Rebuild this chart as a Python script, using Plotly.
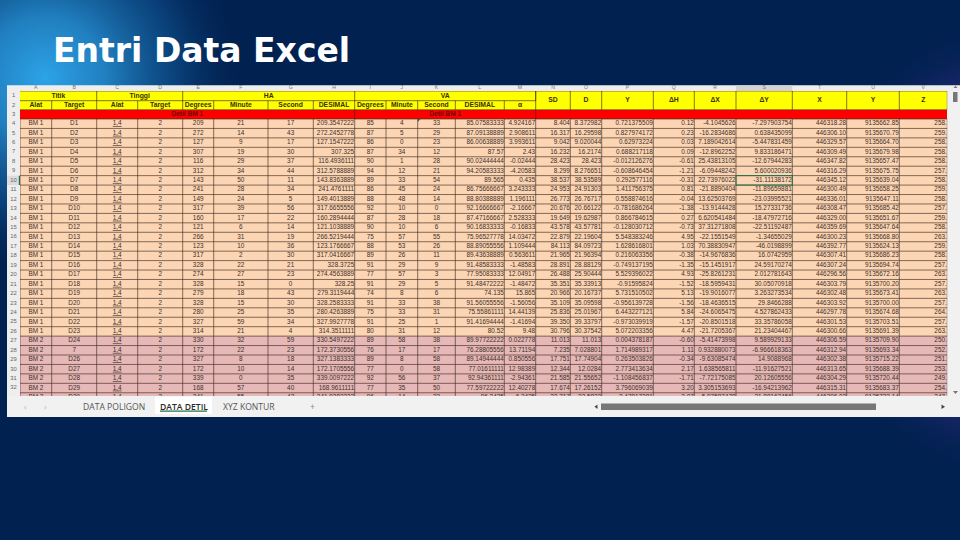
import base64
import plotly.graph_objects as go

# ---------- sheet content ----------
TITLE = "Entri Data Excel"
COL_LETTERS = list("ABCDEFGHIJKLMNOPQRSTUV")
ROW_FIRST = 1
ROW_LAST = 33
GROUP_LABELS = ["Titik", "Tinggi", "HA", "VA"]
SUB_LABELS = ["Alat", "Target", "Alat", "Target", "Degrees", "Minute", "Second", "DESIMAL",
              "Degrees", "Minute", "Second", "DESIMAL", "α"]
TALL_LABELS = ["SD", "D", "Y", "ΔH", "ΔX", "ΔY", "X", "Y", "Z"]
SECTION_LABEL = "Detil BM 1"
SHEET_TABS = ["DATA POLIGON", "DATA DETIL", "XYZ KONTUR"]

col_a = ["BM 1"] * 23 + ["BM 2"] * 7
col_b = ["D1","D2","D3","D4","D5","D6","D7","D8","D9","D10","D11","D12","D13","D14","D15","D16","D17",
         "D18","D19","D20","D21","D22","D23","D24","7","D26","D27","D28","D29","D30"]
col_c = ["1,4"] * 30
col_d = ["2"] * 30
col_e = ["209","272","127","307","116","312","143","241","149","317","160","121","266","123","317","328",
         "274","328","279","328","280","327","314","330","172","327","172","339","168","341"]
col_f = ["21","14","9","19","29","34","50","28","24","39","17","6","31","10","2","22","27","15","18","15",
         "25","59","21","32","22","8","10","0","57","55"]
col_g = ["17","43","17","30","37","44","11","34","5","56","22","14","19","36","30","21","23","0","43","30",
         "35","34","4","59","23","18","14","35","40","42"]
col_h = ["209.3547222","272.2452778","127.1547222","307.325","116.4936111","312.5788889","143.8363889",
         "241.4761111","149.4013889","317.6655556","160.2894444","121.1038889","266.5219444","123.1766667",
         "317.0416667","328.3725","274.4563889","328.25","279.3119444","328.2583333","280.4263889",
         "327.9927778","314.3511111","330.5497222","172.3730556","327.1383333","172.1705556","339.0097222",
         "168.9611111","341.9283333"]
col_i = ["85","87","86","87","90","94","89","86","88","92","87","90","75","88","89","91","77","91","74","91",
         "75","91","80","89","76","89","77","92","77","96"]
col_j = ["4","5","0","34","1","12","33","45","48","10","28","10","57","53","26","29","57","29","8","33","33",
         "25","31","58","17","8","0","56","35","14"]
col_k = ["33","29","23","12","28","21","54","24","14","0","18","6","55","26","11","9","3","5","6","38","31",
         "1","12","38","17","58","58","37","50","33"]
col_l = ["85.07583333","87.09138889","86.00638889","87.57","90.02444444","94.20583333","89.565","86.75666667",
         "88.80388889","92.16666667","87.47166667","90.16833333","75.96527778","88.89055556","89.43638889",
         "91.48583333","77.95083333","91.48472222","74.135","91.56055556","75.55861111","91.41694444","80.52",
         "89.97722222","76.28805556","89.14944444","77.01611111","92.94361111","77.59722222","96.2425"]
col_m = ["4.924167","2.908611","3.993611","2.43","-0.02444","-4.20583","0.435","3.243333","1.196111","-2.16667",
         "2.528333","-0.16833","14.03472","1.109444","0.563611","-1.48583","12.04917","-1.48472","15.865",
         "-1.56056","14.44139","-1.41694","9.48","0.022778","13.71194","0.850556","12.98389","-2.94361",
         "12.40278","-6.2425"]
col_n = ["8.404","16.317","9.042","16.232","28.423","8.299","38.537","24.953","26.773","20.676","19.649","43.578",
         "22.879","84.113","21.965","28.891","26.488","35.351","20.966","35.109","25.836","39.350","30.796",
         "11.013","7.235","17.751","12.344","21.585","17.674","22.717"]
col_o = ["8.372982","16.29598","9.020044","16.2174","28.423","8.276651","38.53589","24.91303","26.76717","20.66122",
         "19.62987","43.57781","22.19604","84.09723","21.96394","28.88129","25.90444","35.33913","20.16737",
         "35.09598","25.01967","39.33797","30.37542","11.013","7.028801","17.74904","12.0284","21.55652",
         "17.26152","22.5833"]
col_p = ["0.721375509","0.827974172","0.62973224","0.688217118","-0.012126276","-0.608646454","0.292577116",
         "1.411756375","0.558874616","-0.781686264","0.866784615","-0.128030712","5.548383246","1.628616801",
         "0.216063356","-0.749137195","5.529396022","-0.91595824","5.731510502","-0.956139728","6.443227121",
         "-0.973039919","5.072203356","0.004378187","1.714989317","0.263503826","2.773413634","-1.108456837",
         "3.796069039","-2.47917381"]
col_q = ["0.12","0.23","0.03","0.09","-0.61","-1.21","-0.31","0.81","-0.04","-1.38","0.27","-0.73","4.95","1.03",
         "-0.38","-1.35","4.93","-1.52","5.13","-1.56","5.84","-1.57","4.47","-0.60","1.11","-0.34","2.17","-1.71",
         "3.20","-3.07"]
col_r = ["-4.1045626","-16.2834686","7.189042614","-12.8962252","25.43813105","-6.09448242","22.73976022",
         "-21.8890404","13.62503769","-13.9144428","6.620541484","37.31271808","-22.1551549","70.38830947",
         "-14.9676836","-15.1451917","-25.8261231","-18.5959431","-19.9016077","-18.4636515","-24.6065475",
         "-20.8501518","-21.7205367","-5.41473998","0.932880073","-9.63085474","1.638565811","-7.72175085",
         "3.305153693","-5.97587478"]
col_s = ["-7.297903754","0.638435099","-5.447831459","9.833186471","-12.67944283","5.600020936","-31.11138172",
         "-11.89659881","-23.03995521","15.27331736","-18.47972716","-22.51192487","-1.34655029","-46.0198899",
         "16.0742959","24.59170274","2.012781643","30.05070918","3.263273534","29.8466288","4.527862433",
         "33.35786058","21.23404467","9.589929133","-6.966618363","14.9088968","-11.91627521","20.12605556",
         "-16.94213962","21.88167456"]
col_t = ["446318.28","446306.10","446329.57","446309.49","446347.82","446316.29","446345.12","446300.49","446336.01",
         "446308.47","446329.00","446359.69","446300.23","446392.77","446307.41","446307.24","446296.56","446303.79",
         "446302.48","446303.92","446297.78","446301.53","446300.66","446306.59","446312.94","446302.38","446313.65",
         "446304.29","446315.31","446306.03"]
col_u = ["9135662.85","9135670.79","9135664.70","9135679.98","9135657.47","9135675.75","9135639.04","9135658.25",
         "9135647.11","9135685.42","9135651.67","9135647.64","9135668.80","9135624.13","9135686.23","9135694.74",
         "9135672.16","9135700.20","9135673.41","9135700.00","9135674.68","9135703.51","9135691.39","9135709.90",
         "9135693.34","9135715.22","9135688.39","9135720.44","9135683.37","9135722.14"]
col_v = ["258.","259.","258.","258.","258.","257.","258.","259.","258.","257.","259.","258.","263.","259.","258.",
         "257.","263.","257.","263.","257.","264.","257.","263.","250.","252.","251.","253.","249.","254.","247."]

columns = [col_a, col_b, col_c, col_d, col_e, col_f, col_g, col_h, col_i, col_j, col_k,
           col_l, col_m, col_n, col_o, col_p, col_q, col_r, col_s, col_t, col_u, col_v]

# ---------- layout geometry (pixels of the slide) ----------
W, H = 960, 540
X_EDGES = [20, 51.7, 96.7, 137.7, 182.7, 213.7, 268, 313.3, 354.7, 386, 417.7, 455.3, 504.3, 535.7,
           570.3, 601.7, 653.3, 694.3, 736, 792.3, 846.7, 899.3, 947.3]
Y_HEAD = [91, 100.7, 109.7, 119]
ROW_H = 9.44
N_DATA = len(col_a)
Y_EDGES = Y_HEAD + [119 + ROW_H * (i + 1) for i in range(N_DATA)]
GRID_BOTTOM = 396
BM1_ROWS = col_a.count("BM 1")
RIGHT_ALIGNED = set("HLMNOPQRSTUV")
GRID_COLOR = "rgba(62,42,30,0.80)"
TEXT_COLOR = "#40302a"
FONT = "Liberation Sans"
SIZE = 6.4

xc = [(a + b) / 2 for a, b in zip(X_EDGES, X_EDGES[1:])]
yc = [(a + b) / 2 for a, b in zip(Y_EDGES, Y_EDGES[1:])]

# ---------- slide background ----------
svg = f'''<svg xmlns="http://www.w3.org/2000/svg" width="{W}" height="{H}" viewBox="0 0 {W} {H}">
<defs>
<radialGradient id="a" gradientUnits="userSpaceOnUse" cx="45" cy="78" r="205">
<stop offset="0" stop-color="#2da3e8"/><stop offset="0.3" stop-color="#2387c8" stop-opacity="0.92"/>
<stop offset="0.65" stop-color="#0f5594" stop-opacity="0.6"/><stop offset="1" stop-color="#012150" stop-opacity="0"/>
</radialGradient>
<radialGradient id="b" gradientUnits="userSpaceOnUse" cx="1035" cy="250" r="240">
<stop offset="0" stop-color="#3a3196"/><stop offset="0.7" stop-color="#2a2a7c" stop-opacity="0.8"/>
<stop offset="1" stop-color="#012150" stop-opacity="0"/>
</radialGradient>
</defs>
<rect width="{W}" height="{H}" fill="#012150"/>
<rect width="{W}" height="{H}" fill="url(#a)"/>
<rect width="{W}" height="{H}" fill="url(#b)"/>
</svg>'''
bg_uri = "data:image/svg+xml;base64," + base64.b64encode(svg.encode()).decode()

# ---------- cell colours ----------
z = []
z.append([0] * 22)
z.append([0] * 22)
z.append([1] * 22)
for i in range(N_DATA):
    z.append([2 if i < BM1_ROWS else 3] * 22)
colorscale = [[0, "#ffff00"], [0.25, "#ffff00"], [0.25, "#ff0000"], [0.5, "#ff0000"],
              [0.5, "#fcd5b4"], [0.75, "#fcd5b4"], [0.75, "#e6b8b7"], [1, "#e6b8b7"]]

fig = go.Figure()
fig.add_trace(go.Heatmap(x=X_EDGES, y=Y_EDGES, z=z, zmin=0, zmax=3, colorscale=colorscale, showscale=False,
                         hoverinfo="skip", xaxis="x2", yaxis="y2"))

# ---------- grid lines ----------
gx, gy = [], []
def seg(x0, y0, x1, y1):
    gx.extend([x0, x1, None]); gy.extend([y0, y1, None])

# horizontals
seg(X_EDGES[0], Y_HEAD[0], X_EDGES[-1], Y_HEAD[0])
seg(X_EDGES[0], Y_HEAD[1], X_EDGES[13], Y_HEAD[1])
seg(X_EDGES[0], Y_HEAD[2], X_EDGES[-1], Y_HEAD[2])
for yy in Y_EDGES[3:]:
    seg(X_EDGES[0], yy, X_EDGES[-1], yy)
# verticals: merged group row, sub-header row, tall headers, data rows
for k in [2, 4, 8, 13]:
    seg(X_EDGES[k], Y_HEAD[0], X_EDGES[k], Y_HEAD[1])
for k in range(1, 13):
    seg(X_EDGES[k], Y_HEAD[1], X_EDGES[k], Y_HEAD[2])
for k in range(13, 23):
    seg(X_EDGES[k], Y_HEAD[0], X_EDGES[k], Y_HEAD[2])
for k in [8, 13]:
    seg(X_EDGES[k], Y_HEAD[2], X_EDGES[k], Y_HEAD[3])
for k in range(0, 23):
    seg(X_EDGES[k], Y_HEAD[3], X_EDGES[k], Y_EDGES[-1])
fig.add_trace(go.Scatter(x=gx, y=gy, mode="lines", line=dict(color=GRID_COLOR, width=0.8),
                         hoverinfo="skip", xaxis="x2", yaxis="y2"))

# ---------- data text ----------
cx, rx, cy, ry, ct, rt = [], [], [], [], [], []
for c, col in enumerate(columns):
    letter = COL_LETTERS[c]
    for r, val in enumerate(col):
        yy = yc[3 + r]
        label = f"<u>{val}</u>" if letter == "C" else val
        if letter in RIGHT_ALIGNED:
            rx.append(X_EDGES[c + 1] - 0.5); ry.append(yy); rt.append(label)
        else:
            cx.append(xc[c]); cy.append(yy); ct.append(label)
fig.add_trace(go.Scatter(x=cx, y=cy, text=ct, mode="text", textposition="middle center",
                         textfont=dict(family=FONT, size=SIZE, color=TEXT_COLOR), hoverinfo="skip",
                         xaxis="x2", yaxis="y2"))
fig.add_trace(go.Scatter(x=rx, y=ry, text=rt, mode="text", textposition="middle left",
                         textfont=dict(family=FONT, size=SIZE, color=TEXT_COLOR), hoverinfo="skip",
                         xaxis="x2", yaxis="y2"))

# ---------- header text ----------
hx, hy, ht = [], [], []
group_centres = [(X_EDGES[0] + X_EDGES[2]) / 2, (X_EDGES[2] + X_EDGES[4]) / 2,
                 (X_EDGES[4] + X_EDGES[8]) / 2, (X_EDGES[8] + X_EDGES[13]) / 2]
for xx, t in zip(group_centres, GROUP_LABELS):
    hx.append(xx); hy.append(yc[0]); ht.append(t)
for k, t in enumerate(SUB_LABELS):
    hx.append(xc[k]); hy.append(yc[1]); ht.append(t)
for k, t in enumerate(TALL_LABELS):
    hx.append(xc[13 + k]); hy.append(Y_HEAD[1]); ht.append(t)
fig.add_trace(go.Scatter(x=hx, y=hy, text=ht, mode="text", textposition="middle center",
                         textfont=dict(family=FONT, size=6.8, color="#3a3000", weight="bold"),
                         hoverinfo="skip", xaxis="x2", yaxis="y2"))
fig.add_trace(go.Scatter(x=[(X_EDGES[0] + X_EDGES[8]) / 2, (X_EDGES[8] + X_EDGES[13]) / 2], y=[yc[2], yc[2]],
                         text=[SECTION_LABEL, SECTION_LABEL], mode="text", textposition="middle center",
                         textfont=dict(family=FONT, size=6.6, color="#6e0505", weight="bold"),
                         hoverinfo="skip", xaxis="x2", yaxis="y2"))

# ---------- row numbers and column letters ----------
rows = list(range(ROW_FIRST, ROW_LAST))
fig.add_trace(go.Scatter(x=[13.5] * len(rows), y=yc[:len(rows)], text=[str(r) for r in rows], mode="text",
                         textposition="middle center",
                         textfont=dict(family=FONT, size=5.8, color="#666666"), hoverinfo="skip"))
fig.add_trace(go.Scatter(x=xc, y=[88.2] * 22, text=COL_LETTERS, mode="text", textposition="middle center",
                         textfont=dict(family=FONT, size=5.2, color="#777777"), hoverinfo="skip"))

# ---------- sheet chrome ----------
def rect(x0, y0, x1, y1, fill, layer="below", line=None, xref="x", yref="y"):
    return dict(type="rect", x0=x0, y0=y0, x1=x1, y1=y1, fillcolor=fill, layer=layer, xref=xref, yref=yref,
                line=line or dict(width=0))

sel_row = 10 - 1
shapes = [
    rect(7, 85.5, 960, 417, "#f1f1f1"),
    rect(7, 85.5, 960, 91, "#eeeeee"),
    rect(7, 91, 20, 396, "#eeeeee"),
    rect(7, yc[sel_row] - 4.7, 20, yc[sel_row] + 4.7, "#dcdcdc"),
    rect(18.8, yc[sel_row] - 4.7, 20, yc[sel_row] + 4.7, "#217346"),
    rect(X_EDGES[18], 85.5, X_EDGES[19], 91, "#d4d4d4"),
    rect(155, 396.5, 212, 414, "#ffffff"),
    rect(160, 410.6, 207, 411.8, "#217346"),
    rect(601, 403.5, 876, 410, "#777777", line=dict(width=0)),
    rect(953, 92, 957.5, 102, "#777777", line=dict(width=0)),
    rect(X_EDGES[18], Y_EDGES[sel_row], X_EDGES[19], Y_EDGES[sel_row + 1], "rgba(0,0,0,0)", layer="above",
         line=dict(color="#217346", width=1), xref="x2", yref="y2"),
    dict(type="path", path=f"M {X_EDGES[10]} 119 L {X_EDGES[10] + 3} 119 L {X_EDGES[10]} 122 Z",
         fillcolor="#217346", line=dict(width=0), layer="above"),
    dict(type="path", path="M 597.5 404.5 L 597.5 409 L 594.5 406.75 Z", fillcolor="#444444", line=dict(width=0)),
    dict(type="path", path="M 941.5 404.5 L 941.5 409 L 945 406.75 Z", fillcolor="#444444", line=dict(width=0)),
    dict(type="path", path="M 953.5 88 L 957.5 88 L 955.5 85.8 Z", fillcolor="#777777", line=dict(width=0)),
    dict(type="path", path="M 953 391 L 958 391 L 955.5 394 Z", fillcolor="#777777", line=dict(width=0)),
]

annotations = [
    dict(x=50.5, y=50.5, xref="x", yref="y", text=TITLE, showarrow=False, xanchor="left", yanchor="middle",
         font=dict(family="DejaVu Sans", size=33, color="#ffffff", weight="bold")),
]
for xx, t, col, w in [(113.5, SHEET_TABS[0], "#555555", 400), (183.5, SHEET_TABS[1], "#2a2a2a", 600),
                      (249, SHEET_TABS[2], "#555555", 400), (312, "+", "#888888", 400),
                      (25, "‹", "#bbbbbb", 400), (45, "›", "#bbbbbb", 400)]:
    annotations.append(dict(x=xx, y=406.5, xref="x", yref="y", text=t, showarrow=False, xanchor="center",
                            yanchor="middle", font=dict(family="Open Sans", size=8.6, color=col, weight=w)))

axis_off = dict(visible=False, showgrid=False, zeroline=False, fixedrange=True)
fig.update_layout(
    width=W, height=H, margin=dict(l=0, r=0, t=0, b=0, pad=0), autosize=False, showlegend=False,
    paper_bgcolor="#012150", plot_bgcolor="rgba(0,0,0,0)",
    xaxis=dict(range=[0, W], domain=[0, 1], **axis_off),
    yaxis=dict(range=[H, 0], domain=[0, 1], **axis_off),
    xaxis2=dict(range=[X_EDGES[0], X_EDGES[-1]], domain=[X_EDGES[0] / W, X_EDGES[-1] / W], anchor="y2", **axis_off),
    yaxis2=dict(range=[GRID_BOTTOM, Y_HEAD[0]], domain=[1 - GRID_BOTTOM / H, 1 - Y_HEAD[0] / H], anchor="x2", **axis_off),
    images=[dict(source=bg_uri, xref="paper", yref="paper", x=0, y=1, sizex=1, sizey=1, sizing="stretch",
                 xanchor="left", yanchor="top", layer="below")],
    shapes=shapes, annotations=annotations,
)
fig.write_html("out.html", config=dict(displayModeBar=False),
               post_script="document.documentElement.style.overflow='hidden';document.body.style.margin='0';"
                           "document.body.style.background='#012150';")
